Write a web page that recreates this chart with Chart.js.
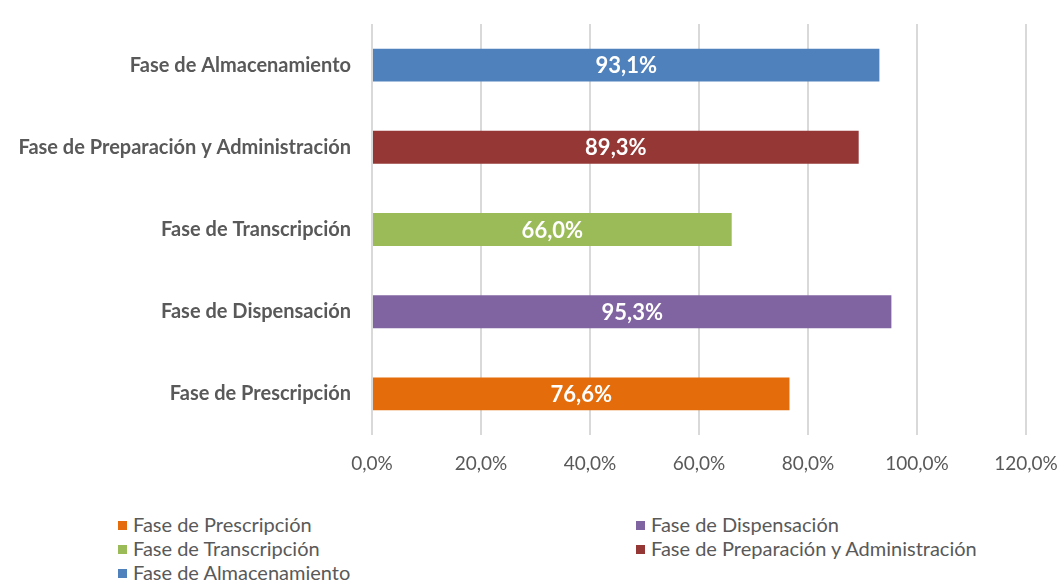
<!DOCTYPE html>
<html>
<head>
<meta charset="utf-8">
<script src="https://cdn.jsdelivr.net/npm/chart.js@4/dist/chart.umd.min.js"></script>
<style>
  body { margin: 0; background: #fff; font-family: Lato, "Open Sans", sans-serif; }
  #wrap { position: relative; width: 1062px; height: 584px; }
  #chartBox { position: absolute; left: 0; top: 0; width: 1062px; height: 490px; }
  #legend { position: absolute; left: 0; top: 512px; width: 1062px; }
  .item { position: absolute; color: #595959; font-size: 20px; white-space: nowrap; line-height: 24px; }
  .item span { display: inline-block; width: 9px; height: 9px; margin-right: 6px; vertical-align: 2px; }
</style>
</head>
<body>
<div id="wrap">
  <div id="chartBox"><canvas id="c"></canvas></div>
  <div id="legend"></div>
</div>
<script>
const categories = ['Fase de Almacenamiento', 'Fase de Preparación y Administración', 'Fase de Transcripción', 'Fase de Dispensación', 'Fase de Prescripción'];
const values = [93.1, 89.3, 66.0, 95.3, 76.6];
const colors = ['#4F81BD', '#953735', '#9BBB59', '#8064A2', '#E46C0A'];
const xTicks = [0, 20, 40, 60, 80, 100, 120];

const pct = v => v.toFixed(1).replace('.', ',') + '%';

// legend in the order of the original (bottom category first), two columns
const legendOrder = [4, 3, 2, 1, 0];
const legendEl = document.getElementById('legend');
legendOrder.forEach((idx, i) => {
  const d = document.createElement('div');
  d.className = 'item';
  d.style.left = (i % 2 === 0 ? 118 : 636) + 'px';
  d.style.top = (Math.floor(i / 2) * 24) + 'px';
  d.innerHTML = '<span style="background:' + colors[idx] + '"></span>' + categories[idx];
  legendEl.appendChild(d);
});

const barLabels = {
  id: 'barLabels',
  afterDatasetsDraw(chart) {
    const ctx = chart.ctx;
    const meta = chart.getDatasetMeta(0);
    ctx.save();
    ctx.fillStyle = '#ffffff';
    ctx.font = 'bold 22px Lato, "Open Sans", sans-serif';
    ctx.textAlign = 'center';
    ctx.textBaseline = 'middle';
    meta.data.forEach((bar, i) => {
      ctx.fillText(pct(values[i]), (bar.x + bar.base) / 2, bar.y + 1);
    });
    ctx.restore();
  }
};

new Chart(document.getElementById('c'), {
  type: 'bar',
  data: {
    labels: categories,
    datasets: [{
      data: values,
      backgroundColor: colors,
      categoryPercentage: 0.8,
      barPercentage: 0.5
    }]
  },
  options: {
    indexAxis: 'y',
    responsive: true,
    maintainAspectRatio: false,
    animation: false,
    layout: { padding: { top: 24, right: 36, left: 0, bottom: 0 } },
    plugins: {
      legend: { display: false },
      tooltip: { enabled: false }
    },
    scales: {
      x: {
        min: 0,
        max: 120,
        afterBuildTicks: axis => { axis.ticks = xTicks.map(v => ({ value: v })); },
        afterFit: axis => {
          axis.height = 55;
          axis.paddingLeft = 0;
          axis.paddingRight = 0;
        },
        grid: { color: '#D9D9D9', lineWidth: 2, drawTicks: false },
        border: { display: false },
        ticks: {
          color: '#595959',
          padding: 17,
          font: { family: 'Lato, "Open Sans", sans-serif', size: 19 },
          callback: v => pct(v)
        }
      },
      y: {
        afterFit: axis => {
          axis.width = 372;
          axis.paddingTop = 0;
          axis.paddingBottom = 0;
        },
        grid: { display: false, drawTicks: false },
        border: { display: false },
        ticks: {
          color: '#595959',
          padding: 21,
          font: { family: 'Lato, "Open Sans", sans-serif', size: 20, weight: 'bold' }
        }
      }
    }
  },
  plugins: [barLabels]
});
</script>
</body>
</html>
